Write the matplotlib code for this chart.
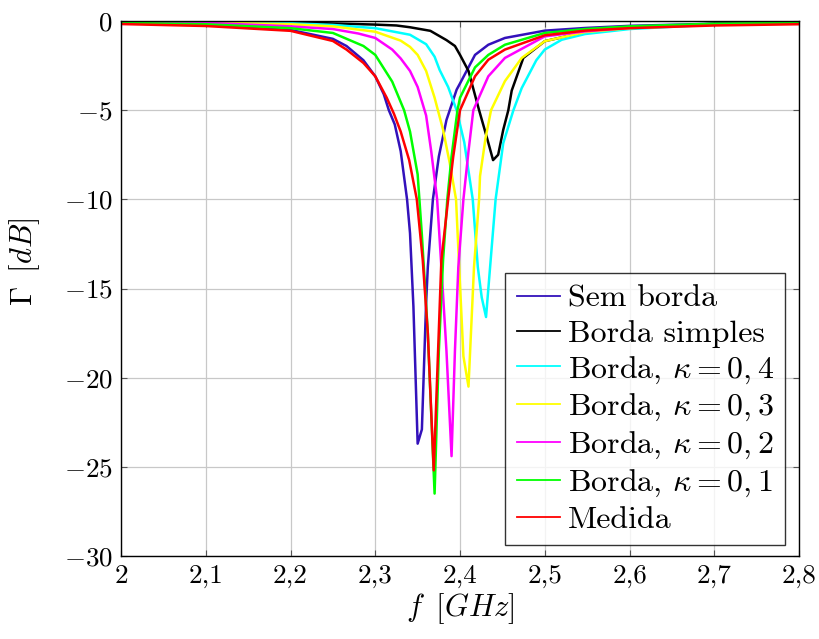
import numpy as np
import matplotlib
matplotlib.use("Agg")
import matplotlib.pyplot as plt

plt.rcParams["font.family"] = "serif"
plt.rcParams["font.serif"] = ["cmr10"]
plt.rcParams["mathtext.fontset"] = "cm"
plt.rcParams["axes.formatter.use_mathtext"] = True

# frequências (GHz) e Γ (dB)
f_sem = [2.0, 2.1, 2.2, 2.25, 2.266, 2.286, 2.3, 2.31, 2.316, 2.323, 2.33, 2.3375, 2.341, 2.345,
         2.35, 2.355, 2.36, 2.362, 2.368, 2.375, 2.384, 2.396, 2.4, 2.4177, 2.4334, 2.453, 2.5,
         2.5475, 2.6, 2.7, 2.8]
g_sem = [-0.12, -0.22, -0.5, -1.0, -1.4, -2.2, -3.1, -4.1, -5.0, -5.8, -7.3, -10.0, -11.9, -16.0,
         -23.7, -22.9, -15.8, -13.8, -10.0, -7.6, -5.55, -3.85, -3.5, -1.9, -1.33, -0.95, -0.54,
         -0.39, -0.27, -0.15, -0.1]

f_simples = [2.0, 2.1, 2.2, 2.3, 2.325, 2.341, 2.365, 2.384, 2.394, 2.4, 2.41, 2.4225, 2.4315,
             2.439, 2.445, 2.451, 2.457, 2.461, 2.4747, 2.5, 2.5475, 2.6, 2.7, 2.8]
g_simples = [-0.02, -0.03, -0.07, -0.2, -0.25, -0.35, -0.55, -1.07, -1.4, -1.9, -2.8, -5.0, -6.5,
             -7.8, -7.5, -6.1, -5.0, -3.9, -2.07, -1.13, -0.62, -0.4, -0.15, -0.07]

f_k04 = [2.0, 2.1, 2.2, 2.25, 2.3, 2.341, 2.36, 2.37, 2.376, 2.386, 2.396, 2.405, 2.415, 2.421,
         2.4256, 2.4307, 2.436, 2.442, 2.451, 2.463, 2.4728, 2.49, 2.5, 2.52, 2.5475, 2.6, 2.7, 2.8]
g_k04 = [-0.03, -0.06, -0.12, -0.22, -0.4, -0.77, -1.3, -2.0, -2.75, -3.7, -5.0, -6.8, -10.0, -13.8,
         -15.5, -16.6, -13.5, -10.0, -6.85, -5.0, -3.76, -2.2, -1.6, -1.05, -0.73, -0.45, -0.2, -0.12]

f_k03 = [2.0, 2.1, 2.2, 2.25, 2.3, 2.33, 2.341, 2.35, 2.36, 2.37, 2.38, 2.388, 2.3953, 2.399,
         2.404, 2.41, 2.4165, 2.4225, 2.4236, 2.43, 2.4366, 2.453, 2.4728, 2.5, 2.5475, 2.6, 2.7, 2.8]
g_k03 = [-0.05, -0.08, -0.18, -0.3, -0.6, -1.1, -1.45, -1.9, -2.8, -4.3, -6.1, -8.0, -10.0, -13.8,
         -18.8, -20.5, -13.8, -10.0, -8.7, -6.6, -5.0, -3.37, -2.07, -1.13, -0.62, -0.4, -0.2, -0.1]

f_k02 = [2.0, 2.1, 2.2, 2.25, 2.28, 2.3, 2.32, 2.33, 2.341, 2.35, 2.36, 2.366, 2.373, 2.378,
         2.384, 2.39, 2.394, 2.398, 2.404, 2.41, 2.4157, 2.4334, 2.453, 2.5, 2.5475, 2.6, 2.7, 2.8]
g_k02 = [-0.05, -0.1, -0.3, -0.45, -0.7, -0.95, -1.6, -2.1, -2.8, -3.7, -5.3, -7.3, -10.0, -13.8,
         -18.5, -24.4, -18.5, -13.8, -10.0, -7.3, -5.0, -3.1, -2.07, -0.86, -0.58, -0.38, -0.18, -0.1]

f_k01 = [2.0, 2.1, 2.2, 2.25, 2.286, 2.3, 2.32, 2.334, 2.341, 2.35, 2.355, 2.362, 2.37, 2.375,
         2.38, 2.385, 2.39, 2.397, 2.4, 2.4177, 2.4334, 2.453, 2.5, 2.5475, 2.6, 2.7, 2.8]
g_k01 = [-0.1, -0.18, -0.4, -0.67, -1.4, -1.9, -3.4, -5.0, -6.2, -8.6, -12.0, -17.5, -26.5, -18.5,
         -13.4, -10.0, -7.6, -5.0, -4.3, -2.6, -1.9, -1.33, -0.67, -0.45, -0.3, -0.15, -0.1]

f_med = [2.0, 2.1, 2.2, 2.25, 2.266, 2.286, 2.3, 2.3135, 2.322, 2.33, 2.34, 2.349, 2.356, 2.362,
         2.369, 2.378, 2.386, 2.392, 2.4, 2.4177, 2.4334, 2.453, 2.5, 2.5475, 2.6, 2.7, 2.8]
g_med = [-0.17, -0.28, -0.55, -1.12, -1.6, -2.35, -3.1, -4.3, -5.2, -6.2, -7.8, -10.0, -13.4, -17.5,
         -25.2, -13.4, -10.0, -7.6, -5.0, -3.1, -2.17, -1.6, -0.8, -0.54, -0.4, -0.25, -0.18]

rotulos = ["Sem borda", "Borda simples", r"Borda, $\kappa=0,4$", r"Borda, $\kappa=0,3$",
           r"Borda, $\kappa=0,2$", r"Borda, $\kappa=0,1$", "Medida"]
cores = ["#3311bb", "black", "cyan", "yellow", "magenta", "lime", "red"]
series = [(f_sem, g_sem), (f_simples, g_simples), (f_k04, g_k04), (f_k03, g_k03),
          (f_k02, g_k02), (f_k01, g_k01), (f_med, g_med)]

xticks = [2.0, 2.1, 2.2, 2.3, 2.4, 2.5, 2.6, 2.7, 2.8]
xlabels = ["2", "2,1", "2,2", "2,3", "2,4", "2,5", "2,6", "2,7", "2,8"]
yticks = [-30, -25, -20, -15, -10, -5, 0]
ylabels = ["$-30$", "$-25$", "$-20$", "$-15$", "$-10$", "$-5$", "$0$"]

fig = plt.figure(figsize=(8.2, 6.39), dpi=100)
ax = fig.add_axes([0.1476, 0.1299, 0.8268, 0.8372])

for (f, g), c, lab in zip(series, cores, rotulos):
    ax.plot(f, g, color=c, lw=1.8, label=lab)

ax.set_xlim(2.0, 2.8)
ax.set_ylim(-30, 0)
ax.set_xticks(xticks)
ax.set_xticklabels(xlabels)
ax.set_yticks(yticks)
ax.set_yticklabels(ylabels)
ax.tick_params(direction="in", top=True, right=True, length=4, labelsize=19.5, pad=6,
               color="#555555")
ax.grid(True, color="#c8c8c8", lw=0.9)
ax.set_axisbelow(True)
for s in ax.spines.values():
    s.set_linewidth(1.0)

ax.set_xlabel(r"$f\;\;[GHz]$", fontsize=22, labelpad=2)
ax.set_ylabel(r"$\Gamma\;\;[dB]$", fontsize=22)
ax.yaxis.set_label_coords(-0.117, 0.55)

leg = ax.legend(loc="lower right", bbox_to_anchor=(0.9794, 0.0206), borderaxespad=0,
                fontsize=23, frameon=True, fancybox=False, edgecolor="black",
                handlelength=1.35, handletextpad=0.25, labelspacing=0.2, borderpad=0.35)
leg.get_frame().set_linewidth(1.0)
for ln in leg.get_lines():
    ln.set_linewidth(1.3)

fig.savefig("out.png", dpi=100)
